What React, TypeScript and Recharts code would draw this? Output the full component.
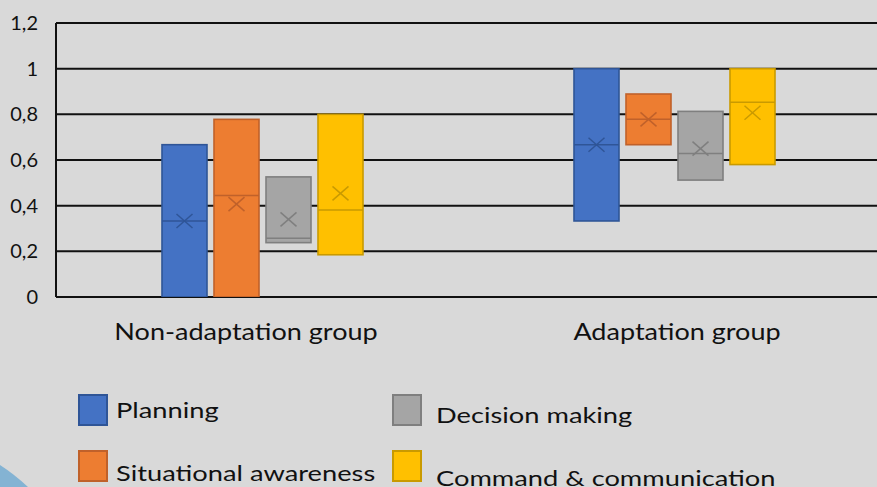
import React from 'react';
import { ComposedChart, Bar, XAxis, YAxis, CartesianGrid, Legend } from 'recharts';

const categories = ['Non-adaptation group', 'Adaptation group'];
const seriesNames = ['Planning', 'Situational awareness', 'Decision making', 'Command & communication'];

const planningLow = [0, 0.333];
const planningHigh = [0.667, 1];
const planningMedian = [0.333, 0.667];
const planningMean = [0.333, 0.667];

const situationalLow = [0, 0.667];
const situationalHigh = [0.778, 0.889];
const situationalMedian = [0.444, 0.778];
const situationalMean = [0.407, 0.778];

const decisionLow = [0.238, 0.512];
const decisionHigh = [0.526, 0.813];
const decisionMedian = [0.257, 0.628];
const decisionMean = [0.34, 0.65];

const commandLow = [0.185, 0.58];
const commandHigh = [0.8, 1];
const commandMedian = [0.381, 0.853];
const commandMean = [0.454, 0.807];

const yTicks = [0, 0.2, 0.4, 0.6, 0.8, 1, 1.2];

const fills = ['#4472C4', '#ED7D31', '#A5A5A5', '#FFC000'];
const strokes = ['#2F5597', '#C0612A', '#7F7F7F', '#C99A00'];

const lows = [planningLow, situationalLow, decisionLow, commandLow];
const highs = [planningHigh, situationalHigh, decisionHigh, commandHigh];
const medians = [planningMedian, situationalMedian, decisionMedian, commandMedian];
const means = [planningMean, situationalMean, decisionMean, commandMean];

const data = categories.map((name, c) => {
  const row: any = { name };
  for (let s = 0; s < 4; s++) {
    row[`r${s}`] = [lows[s][c], highs[s][c]];
    row[`m${s}`] = medians[s][c];
    row[`a${s}`] = means[s][c];
  }
  return row;
});

const FONT = 'Lato, "Open Sans", sans-serif';

const makeShape = (s: number) => (props: any) => {
  const { x, y, width, height, payload } = props;
  if (x == null || y == null) return null;
  const [low, high] = payload[`r${s}`];
  const top = Math.min(y, y + height);
  const h = Math.abs(height);
  const yOf = (v: number) => top + (h * (high - v)) / (high - low);
  const ym = yOf(payload[`m${s}`]);
  const ya = yOf(payload[`a${s}`]);
  const cx = x + width / 2;
  const hw = 8;
  const hh = 7;
  return (
    <g>
      <rect x={x} y={top} width={width} height={h} fill={fills[s]} stroke={strokes[s]} strokeWidth={1.6} />
      <line x1={x} x2={x + width} y1={ym} y2={ym} stroke={strokes[s]} strokeWidth={1.5} />
      <line x1={cx - hw} x2={cx + hw} y1={ya - hh} y2={ya + hh} stroke={strokes[s]} strokeWidth={1.5} />
      <line x1={cx - hw} x2={cx + hw} y1={ya + hh} y2={ya - hh} stroke={strokes[s]} strokeWidth={1.5} />
    </g>
  );
};

const labelOffsets = [-16, 3];

const XTick = (props: any) => {
  const { x, payload, index } = props;
  return (
    <text
      transform={`translate(${x + labelOffsets[index]},340) scale(1.15,1)`}
      x={0}
      y={0}
      textAnchor="middle"
      fontFamily={FONT}
      fontSize={23.5}
      fill="#111"
    >
      {payload.value}
    </text>
  );
};

const LegendContent = (props: any) => {
  const payload = props.payload || [];
  return (
    <svg width={877} height={108} style={{ display: 'block' }}>
      {payload.map((p: any) => {
        const i = seriesNames.indexOf(p.value);
        const col = Math.floor(i / 2);
        const row = i % 2;
        const sx = 79 + col * 314;
        const sy = 16 + row * 56;
        const tx = sx + 37 + col * 6;
        const ty = sy + 23 + col * 4.5 + row * 7;
        return (
          <g key={p.value}>
            <rect x={sx} y={sy} width={28} height={30} fill={fills[i]} stroke={strokes[i]} strokeWidth={2} />
            <text
              transform={`translate(${tx},${ty}) scale(1.24,1)`}
              x={0}
              y={0}
              fontFamily={FONT}
              fontSize={22}
              fill="#111"
            >
              {p.value}
            </text>
          </g>
        );
      })}
    </svg>
  );
};

export default function App() {
  return (
    <div
      style={{
        position: 'absolute',
        left: 0,
        top: 0,
        width: 877,
        height: 487,
        overflow: 'hidden',
        background: '#D9D9D9',
      }}
    >
      <svg width={877} height={487} style={{ position: 'absolute', left: 0, top: 0 }}>
        <path d="M0,465 Q14,474 28,487 L0,487 Z" fill="#84B3D3" />
      </svg>
      <div style={{ position: 'absolute', left: 0, top: 0 }}>
        <ComposedChart
          width={880}
          height={487}
          data={data}
          margin={{ top: 23, right: 0, bottom: 140, left: 0 }}
          barSize={45}
          barGap={7}
        >
          <CartesianGrid horizontal vertical={false} stroke="#111" strokeWidth={2} />
          <XAxis dataKey="name" axisLine={false} tickLine={false} height={50} tick={<XTick />} interval={0} />
          <YAxis
            domain={[0, 1.2]}
            ticks={yTicks}
            width={56}
            axisLine={{ stroke: '#111', strokeWidth: 2 }}
            tickLine={false}
            tickSize={6}
            tickMargin={12}
            tick={{ fontFamily: FONT, fontSize: 20, fill: '#111' }}
            tickFormatter={(v: number) => String(Math.round(v * 10) / 10).replace('.', ',')}
            allowDataOverflow
          />
          <Legend
            layout="horizontal"
            verticalAlign="middle"
            align="center"
            wrapperStyle={{ top: 379, left: 0, width: 877 }}
            content={<LegendContent />}
          />
          {seriesNames.map((n, s) => (
            <Bar key={n} name={n} dataKey={`r${s}`} fill={fills[s]} shape={makeShape(s)} isAnimationActive={false} />
          ))}
        </ComposedChart>
      </div>
    </div>
  );
}
